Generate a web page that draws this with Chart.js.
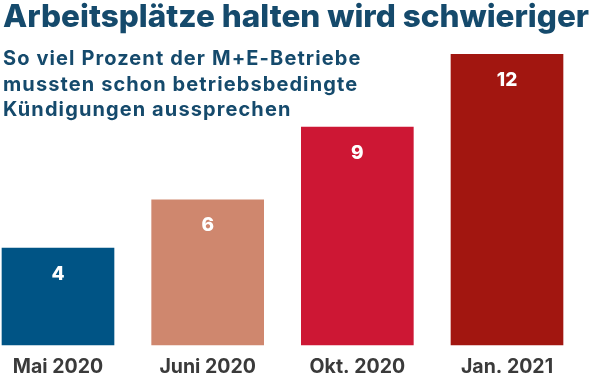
<!DOCTYPE html>
<html>
<head>
<meta charset="utf-8">
<script src="https://cdn.jsdelivr.net/npm/chart.js@4"></script>
<style>
  html, body { margin: 0; padding: 0; background: #fff; }
  #wrap { position: relative; width: 600px; height: 379px; overflow: hidden; }
  #chart { position: absolute; left: 0; top: 0; }
  #title { position: absolute; left: 3px; top: -4px; font-family: Inter, sans-serif; font-weight: 800; font-size: 31.5px; color: #154a6c; white-space: nowrap; letter-spacing: 0px; }
  #subtitle { position: absolute; left: 3px; top: 46px; font-family: Inter, sans-serif; font-weight: 700; font-size: 20px; line-height: 25.5px; color: #154a6c; letter-spacing: 1.1px; white-space: nowrap; }
</style>
</head>
<body>
<div id="wrap">
  <canvas id="chart" width="600" height="379"></canvas>
  <div id="title">Arbeitsplätze halten wird schwieriger</div>
  <div id="subtitle">So viel Prozent der M+E-Betriebe<br>mussten schon betriebsbedingte<br>Kündigungen aussprechen</div>
</div>
<script>
const categories = ["Mai 2020", "Juni 2020", "Okt. 2020", "Jan. 2021"];
const values = [4, 6, 9, 12];
const barColors = ["#005485", "#cf876e", "#cd1734", "#a21610"];

const valueLabels = {
  id: 'valueLabels',
  afterDatasetsDraw(chart) {
    const ctx = chart.ctx;
    const meta = chart.getDatasetMeta(0);
    ctx.save();
    ctx.fillStyle = '#ffffff';
    ctx.font = '800 19px Inter, sans-serif';
    ctx.textAlign = 'center';
    ctx.textBaseline = 'middle';
    meta.data.forEach((bar, i) => {
      ctx.fillText(String(values[i]), bar.x, bar.y + 26);
    });
    ctx.restore();
  }
};

new Chart(document.getElementById('chart'), {
  type: 'bar',
  data: {
    labels: categories,
    datasets: [{
      data: values,
      backgroundColor: barColors,
      borderWidth: 0,
      barThickness: 112,
      clip: false
    }]
  },
  options: {
    responsive: false,
    animation: false,
    layout: { padding: { left: 58, right: 93, top: 6, bottom: 0 } },
    plugins: { legend: { display: false }, tooltip: { enabled: false } },
    scales: {
      x: {
        offset: false,
        grid: { display: false, drawTicks: false },
        border: { display: false },
        afterFit(scale) { scale.height = 34; },
        ticks: { color: '#3a3a3a', font: { family: 'Inter', weight: '700', size: 19.5 }, padding: 10, maxRotation: 0, autoSkip: false }
      },
      y: {
        display: false,
        min: 0,
        max: 14
      }
    }
  },
  plugins: [valueLabels]
});
</script>
</body>
</html>
